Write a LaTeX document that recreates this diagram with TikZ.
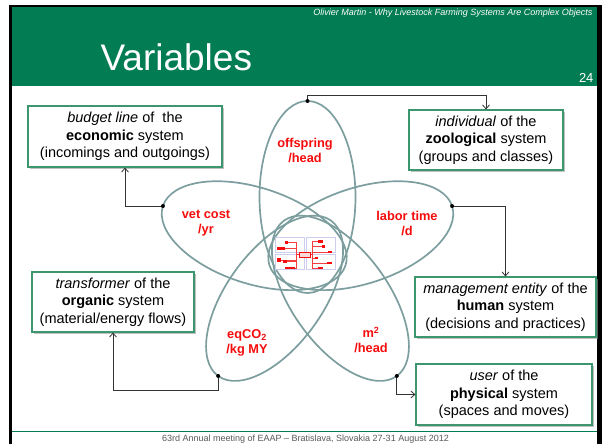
\documentclass[tikz,border=0pt]{standalone}
\usepackage{fontspec}
\setmainfont{Liberation Sans}
\usetikzlibrary{arrows.meta,shadows}

\definecolor{slidegreen}{RGB}{2,124,82}
\definecolor{boxgreen}{RGB}{60,150,110}
\definecolor{petalgray}{RGB}{125,158,158}
\definecolor{varred}{RGB}{245,12,12}
\definecolor{thumbblue}{RGB}{205,205,240}

\tikzset{
  sysbox/.style={draw=boxgreen, line width=1.1pt, fill=white, align=center, inner sep=0pt,
    font=\fontsize{14.5}{17.5}\selectfont,
    drop shadow={shadow xshift=1.6pt, shadow yshift=-1.6pt, fill=black!40, opacity=0.6}},
  petal/.style={draw=petalgray, line width=1.7pt},
  varlabel/.style={text=varred, align=center, font=\fontsize{12.8}{15}\selectfont\bfseries},
  link/.style={draw=black!80, line width=0.8pt, -{Straight Barb[length=4pt,width=7pt]}},
  thumbline/.style={draw=thumbblue, line width=0.3pt},
  thumbred/.style={draw=varred!80, line width=0.5pt},
}

\begin{document}
\begin{tikzpicture}[x=1pt,y=1pt]
	\useasboundingbox (0,0) rectangle (611,444);
	%frame
	\fill[white] (0,0) rectangle (611,444);
	\fill[black] (9,0) rectangle (602,439);
	\fill[white] (12,0) rectangle (597,436.5);
	%header
	\fill[slidegreen] (12,358) rectangle (597,436.5);
	\node[anchor=east, text=white, font=\fontsize{9}{10}\selectfont\itshape] (author) at (596,430.5)
		{Olivier Martin - Why Livestock Farming Systems Are Complex Objects};
	\node[anchor=base west, text=white, font=\fontsize{37}{40}\selectfont] (title) at (97,373) {Variables};
	\node[anchor=east, text=white, font=\fontsize{13}{15}\selectfont] (pageno) at (597,366) {24};
	%footer
	\draw[slidegreen, line width=0.9pt] (12,13) -- (597,13);
	\node[text=black!65, font=\fontsize{9}{10}\selectfont] (footer) at (305.5,5)
		{63rd Annual meeting of EAAP -- Bratislava, Slovakia 27-31 August 2012};

	%petals
	\coordinate (C) at (307.5,191);
	\foreach \ang/\nm in {90/offs,162/vet,18/labor,234/co2,306/area}{
		\begin{scope}[shift={(C)},rotate=\ang]
			\draw[petal] (56,0) ellipse [x radius=96pt, y radius=48pt];
			\coordinate (\nm) at (152,0);
		\end{scope}
	}
	\node[varlabel] (offslbl) at (305,294) {offspring\\/head};
	\node[varlabel] (vetlbl) at (206,221) {vet cost\\/yr};
	\node[varlabel] (laborlbl) at (407,221) {labor time\\/d};
	\node[varlabel] (co2lbl) at (247,101) {eqCO\textsubscript{2}\\/kg MY};
	\node[varlabel] (arealbl) at (371,104) {m\textsuperscript{2}\\/head};

	%small flow chart in the middle
	\begin{scope}[shift={(305.5,190.5)}]
		\fill[white] (-30.5,-16.5) rectangle (30.5,16.5);
		\foreach \xa/\ya/\xb/\yb in {-30/1/-1/16, 1/1/30/16, -30/-16/-1/-1, 1/-16/30/-1}
			\draw[thumbline] (\xa,\ya) rectangle (\xb,\yb);
		\foreach \bx/\by in {-24.5/5, -19/11, -26.5/-6.5, -20.5/-8, -15.5/-14.5}
			\draw[thumbred] (-6.5,-1) -- (-9,-1) |- (\bx,\by);
		\foreach \bx/\by in {15/12, 18/7, 24.5/1.5, 11/-4.5, 24/-9.5, 15/-14.5}
			\draw[thumbred] (4.5,-1) -- (7,-1) |- (\bx,\by);
		\foreach \xa/\ya/\xb/\yb in {-28.5/6.5/-20.5/3.5, -20.5/12.5/-17.5/9.5, -28.5/-4.5/-24.5/-8.5,
				-22.5/-6.5/-18.5/-9.5, -20.5/-13.5/-10.5/-15.5, 12.5/13.5/17.5/10.5, 16.5/8.5/19.5/5.5,
				22.5/2.5/26.5/0.5, 9.5/-3.5/12.5/-5.5, 21.5/-8.5/26.5/-10.5, 12.5/-13.5/17.5/-15.5}
			\fill[varred] (\xa,\ya) rectangle (\xb,\yb);
		\draw[varred, fill=red!15, line width=0.4pt] (-6.5,-3.5) rectangle (4.5,1.5);
	\end{scope}

	%systems
	\node[sysbox, minimum width=194pt, minimum height=61pt] (econ) at (125,307.5)
		{\textit{budget line} of \ the\\\textbf{economic} system\\(incomings and outgoings)};
	\node[sysbox, minimum width=154pt, minimum height=60pt] (zoo) at (486,304)
		{\textit{individual} of the\\\textbf{zoological} system\\(groups and classes)};
	\node[sysbox, minimum width=162pt, minimum height=60pt] (organic) at (113,142)
		{\textit{transformer} of the\\\textbf{organic} system\\(material/energy flows)};
	\node[sysbox, minimum width=181pt, minimum height=60pt] (human) at (505.5,137)
		{\textit{management entity} of the\\\textbf{human} system\\(decisions and practices)};
	\node[sysbox, minimum width=176pt, minimum height=61pt] (phys) at (504,49.5)
		{\textit{user} of the\\\textbf{physical} system\\(spaces and moves)};

	%links
	\draw[link] (vet) -| (econ.south);
	\draw[link] (offs) -- ++(0,6) -| (zoo.north);
	\draw[link] (labor) -| (human.north);
	\draw[link] (co2) -- ++(0,-14) -| (organic.south);
	\draw[link] (area) |- (phys.west);
	\foreach \nm in {offs,vet,labor,co2,area}
		\fill (\nm) circle (2pt);
\end{tikzpicture}
\end{document}
